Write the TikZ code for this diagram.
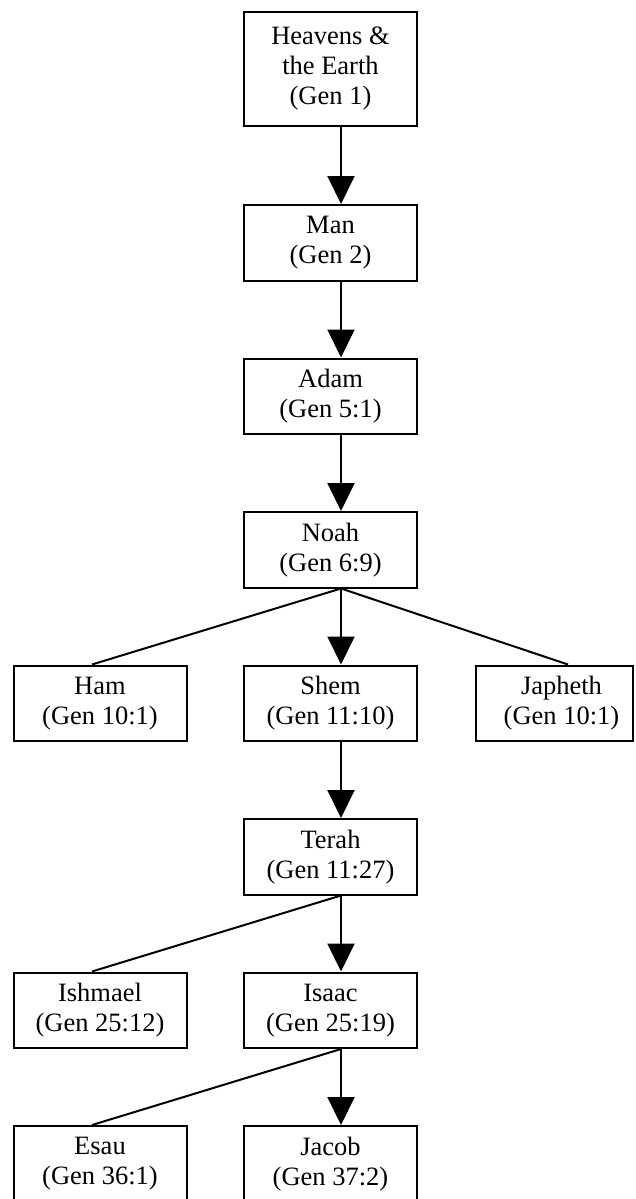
\documentclass[tikz,border=0pt]{standalone}
\usepackage{fontspec}
\setmainfont{Liberation Serif}
\usetikzlibrary{arrows.meta}
\begin{document}
\begin{tikzpicture}[x=1pt,y=-1pt,
  txt/.style={align=center,inner sep=0pt,font=\fontsize{26.5}{30}\selectfont},
  box/.style={txt,draw,line width=2pt,minimum width=173pt,minimum height=75.5pt},
  arr/.style={line width=2pt,-{Triangle[width=27pt,length=28pt]}},
  ln/.style={line width=2pt}]
\useasboundingbox (0,0) rectangle (635,1199);
\node[box,minimum height=114pt] (heaven) at (330.5,69) {Heavens \&\\the Earth\\(Gen 1)};
\node[box] (man) at (330.5,242.75) {Man\\(Gen 2)};
\node[box] (adam) at (330.5,396.25) {Adam\\(Gen 5:1)};
\node[box] (noah) at (330.5,549.75) {Noah\\(Gen 6:9)};
\node[box] (ham) at (100,703.25) {Ham\\(Gen 10:1)};
\node[box] (shem) at (330.5,703.25) {Shem\\(Gen 11:10)};
\node[box,minimum width=157pt] (japheth) at (554.5,703.25) {};
\node[txt] (japhethtext) at (561.5,703.25) {Japheth\\(Gen 10:1)};
\node[box] (terah) at (330.5,856.75) {Terah\\(Gen 11:27)};
\node[box] (ishmael) at (100,1010.25) {Ishmael\\(Gen 25:12)};
\node[box] (isaac) at (330.5,1010.25) {Isaac\\(Gen 25:19)};
\node[box] (esau) at (100,1163.75) {Esau\\(Gen 36:1)};
\node[box] (jacob) at (330.5,1163.75) {Jacob\\(Gen 37:2)};
\draw[arr] ([xshift=10.5pt]heaven.south) -- ([xshift=10.5pt]man.north);
\draw[arr] ([xshift=10.5pt]man.south) -- ([xshift=10.5pt]adam.north);
\draw[arr] ([xshift=10.5pt]adam.south) -- ([xshift=10.5pt]noah.north);
\draw[arr] ([xshift=10.5pt]noah.south) -- ([xshift=10.5pt]shem.north);
\draw[ln] ([xshift=10.5pt]noah.south) -- ([xshift=-8pt]ham.north);
\draw[ln] ([xshift=10.5pt]noah.south) -- ([xshift=13.5pt]japheth.north);
\draw[arr] ([xshift=10.5pt]shem.south) -- ([xshift=10.5pt]terah.north);
\draw[arr] ([xshift=10.5pt]terah.south) -- ([xshift=10.5pt]isaac.north);
\draw[ln] ([xshift=10.5pt]terah.south) -- ([xshift=-8pt]ishmael.north);
\draw[arr] ([xshift=10.5pt]isaac.south) -- ([xshift=10.5pt]jacob.north);
\draw[ln] ([xshift=10.5pt]isaac.south) -- ([xshift=-8pt]esau.north);
\end{tikzpicture}
\end{document}
